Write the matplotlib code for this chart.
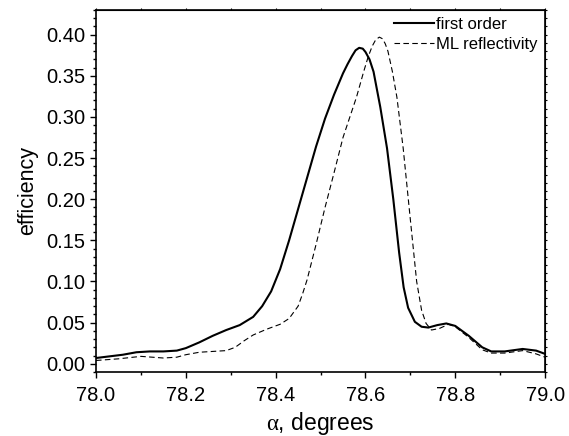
import matplotlib
matplotlib.use('Agg')
import matplotlib.pyplot as plt
from matplotlib.ticker import MultipleLocator

plt.rcParams['font.family'] = ['Liberation Sans', 'DejaVu Sans']
plt.rcParams['mathtext.fontset'] = 'custom'
plt.rcParams['mathtext.rm'] = 'Liberation Serif'

# first order efficiency vs angle
alpha_first = [78.00, 78.03, 78.06, 78.09, 78.12, 78.15, 78.18, 78.20, 78.23, 78.26,
               78.29, 78.32, 78.35, 78.37, 78.39, 78.41, 78.43, 78.45, 78.47, 78.49,
               78.51, 78.53, 78.55, 78.56, 78.57, 78.578, 78.586, 78.594, 78.60, 78.609,
               78.618, 78.633, 78.648, 78.662, 78.675, 78.685, 78.695, 78.71, 78.725, 78.74,
               78.76, 78.78, 78.80, 78.83, 78.86, 78.88, 78.91, 78.95, 78.98, 79.00]
eff_first = [0.007, 0.009, 0.011, 0.014, 0.015, 0.015, 0.016, 0.019, 0.026, 0.034,
             0.041, 0.047, 0.057, 0.070, 0.088, 0.115, 0.150, 0.188, 0.226, 0.264,
             0.298, 0.327, 0.353, 0.364, 0.374, 0.381, 0.384, 0.383, 0.379, 0.370,
             0.355, 0.312, 0.262, 0.200, 0.135, 0.093, 0.068, 0.051, 0.045, 0.044,
             0.047, 0.049, 0.046, 0.034, 0.020, 0.015, 0.015, 0.018, 0.016, 0.012]

# multilayer reflectivity
alpha_ml = [78.00, 78.05, 78.10, 78.15, 78.18, 78.20, 78.23, 78.26, 78.29, 78.31,
            78.33, 78.35, 78.38, 78.41, 78.43, 78.45, 78.46, 78.47, 78.49, 78.51,
            78.53, 78.55, 78.58, 78.596, 78.606, 78.615, 78.623, 78.631, 78.638, 78.644,
            78.65, 78.66, 78.67, 78.684, 78.70, 78.714, 78.725, 78.735, 78.747, 78.765,
            78.785, 78.80, 78.83, 78.86, 78.88, 78.91, 78.95, 78.98, 79.00]
refl_ml = [0.004, 0.006, 0.009, 0.007, 0.008, 0.011, 0.014, 0.015, 0.016, 0.020,
           0.028, 0.035, 0.042, 0.048, 0.055, 0.070, 0.085, 0.102, 0.145, 0.190,
           0.232, 0.275, 0.324, 0.355, 0.373, 0.386, 0.394, 0.397, 0.395, 0.389,
           0.380, 0.355, 0.324, 0.262, 0.175, 0.100, 0.065, 0.049, 0.041, 0.043,
           0.048, 0.045, 0.032, 0.017, 0.013, 0.013, 0.016, 0.012, 0.008]

fig = plt.figure(figsize=(5.69, 4.36), dpi=100)
ax = fig.add_axes([0.1687, 0.1468, 0.7893, 0.8303])

ax.plot(alpha_first, eff_first, color='black', linewidth=1.5, label='first order')
ax.plot(alpha_ml, refl_ml, color='black', linewidth=0.8, linestyle=(0, (5, 3)),
        label='ML reflectivity')

ax.set_xlim(78.0, 79.0)
ax.set_ylim(-0.01, 0.43)
ax.xaxis.set_major_locator(MultipleLocator(0.2))
ax.xaxis.set_minor_locator(MultipleLocator(0.1))
ax.yaxis.set_major_locator(MultipleLocator(0.05))
ax.yaxis.set_minor_locator(MultipleLocator(0.01))
ax.xaxis.set_major_formatter(plt.FormatStrFormatter('%.1f'))
ax.yaxis.set_major_formatter(plt.FormatStrFormatter('%.2f'))
ax.tick_params(which='major', direction='out', length=4, width=1, labelsize=14.5)
ax.tick_params(axis='x', which='major', pad=6)
ax.tick_params(which='minor', direction='out', length=2.3, width=1)
for s in ax.spines.values():
    s.set_linewidth(1.2)

# small mirrored ticks on top and right
top = ax.secondary_xaxis('top')
top.xaxis.set_major_locator(MultipleLocator(0.1))
top.tick_params(direction='out', length=1.5, width=0.8, labeltop=False)
right = ax.secondary_yaxis('right')
right.yaxis.set_major_locator(MultipleLocator(0.01))
right.tick_params(direction='out', length=1.5, width=0.8, labelright=False)

ax.set_xlabel(r'$\mathrm{\alpha}$, degrees', fontsize=16.5, labelpad=4)
ax.set_ylabel('efficiency', fontsize=15.5, labelpad=6)

ax.legend(loc='upper right', bbox_to_anchor=(0.995, 0.995), frameon=False, fontsize=12,
          handlelength=2.4, handletextpad=0.15, labelspacing=0.3,
          borderaxespad=0.1, borderpad=0.2)

fig.savefig('out.png', dpi=100)
